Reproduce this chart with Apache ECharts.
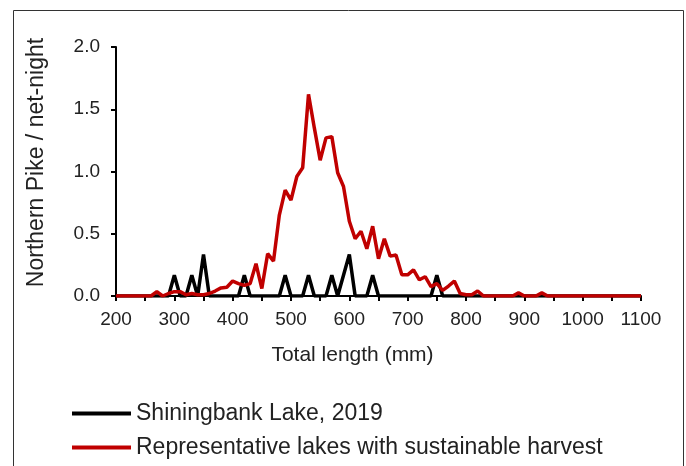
<!DOCTYPE html>
<html>
<head>
<meta charset="utf-8">
<script src="https://cdn.jsdelivr.net/npm/echarts@6/dist/echarts.min.js"></script>
<style>
html,body{margin:0;padding:0;background:#fff;}
#chart{width:686px;height:466px;}
</style>
</head>
<body>
<div id="chart"></div>
<script>
// Total length bins (mm)
var lengths = [200,210,220,230,240,250,260,270,280,290,
  300,310,320,330,340,350,360,370,380,390,
  400,410,420,430,440,450,460,470,480,490,
  500,510,520,530,540,550,560,570,580,590,
  600,610,620,630,640,650,660,670,680,690,
  700,710,720,730,740,750,760,770,780,790,
  800,810,820,830,840,850,860,870,880,890,
  900,910,920,930,940,950,960,970,980,990,
  1000,1010,1020,1030,1040,1050,1060,1070,1080,1090,1100];

// Shiningbank Lake, 2019 (fish / net-night)
var shiningbank = [0,0,0,0,0,0,0,0,0,0,
  0.167,0,0,0.167,0,0.333,0,0,0,0,
  0,0,0.167,0,0,0,0,0,0,0.167,
  0,0,0,0.167,0,0,0,0.167,0,0.167,
  0.333,0,0,0,0.167,0,0,0,0,0,
  0,0,0,0,0,0.167,0,0,0,0,
  0,0,0,0,0,0,0,0,0,0,
  0,0,0,0,0,0,0,0,0,0,
  0,0,0,0,0,0,0,0,0,0,0];

// Representative lakes with sustainable harvest
var representative = [0,0,0,0,0,0,0,0.035,0,0.02,
  0.035,0.035,0.01,0.02,0.01,0.01,0.02,0.04,0.065,0.07,
  0.12,0.1,0.085,0.1,0.26,0.06,0.34,0.28,0.65,0.85,
  0.77,0.96,1.03,1.62,1.35,1.09,1.27,1.28,0.99,0.88,
  0.6,0.46,0.52,0.38,0.56,0.30,0.46,0.32,0.33,0.17,
  0.17,0.21,0.13,0.155,0.075,0.10,0.045,0.08,0.12,0.02,
  0.01,0.01,0.04,0,0,0,0,0,0,0.025,
  0,0,0,0.025,0,0,0,0,0,0,
  0,0,0,0,0,0,0,0,0,0,0];

var seriesNames = ['Shiningbank Lake, 2019', 'Representative lakes with sustainable harvest'];
var xTitle = 'Total length (mm)';
var yTitle = 'Northern Pike / net-night';

function pairs(vals){ return lengths.map(function(x,i){ return [x, vals[i]]; }); }

var textColor = '#222';
var font = 'Arial, "Liberation Sans", sans-serif';

var chart = echarts.init(document.getElementById('chart'), null, {renderer:'canvas'});
chart.setOption({
  backgroundColor: '#fff',
  animation: false,
  grid: {left:116, right:45, top:47, bottom:170, containLabel:false},
  xAxis: {
    type:'value', min:200, max:1100, interval:100,
    axisLine:{show:true, onZero:false, lineStyle:{color:'#000', width:2}},
    axisTick:{show:true, length:5, lineStyle:{color:'#000', width:2}},
    minorTick:{show:true, splitNumber:2, length:5, lineStyle:{color:'#000', width:2}},
    splitLine:{show:false},
    axisLabel:{color:textColor, fontSize:19, fontFamily:font, margin:14,
      formatter:function(v){ return String(v); }}
  },
  yAxis: {
    type:'value', min:0, max:2, interval:0.5,
    axisLine:{show:true, lineStyle:{color:'#000', width:2}},
    axisTick:{show:true, length:5, lineStyle:{color:'#000', width:2}},
    splitLine:{show:false},
    axisLabel:{color:textColor, fontSize:19, fontFamily:font, margin:16,
      formatter:function(v){ return v.toFixed(1); }}
  },
  legend: {
    orient:'vertical', left:67, top:397, itemWidth:59, itemHeight:4, itemGap:11,
    icon:'rect',
    textStyle:{color:textColor, fontSize:23, fontFamily:font},
    data: seriesNames
  },
  series: [
    {name:seriesNames[0], type:'line', data:pairs(shiningbank), symbol:'none',
     lineStyle:{color:'#000', width:3.5}, itemStyle:{color:'#000'}, z:2},
    {name:seriesNames[1], type:'line', data:pairs(representative), symbol:'none',
     lineStyle:{color:'#c00000', width:3.5}, itemStyle:{color:'#c00000'}, z:3}
  ],
  graphic: [
    {type:'rect', shape:{x:13.5, y:10.5, width:670, height:470}, style:{fill:'none', stroke:'#333', lineWidth:1}, silent:true},
    {type:'text', x:36.5, y:162.5, rotation:Math.PI/2,
     style:{text:yTitle, fill:textColor, fontSize:23, fontFamily:font, align:'center', verticalAlign:'middle'}},
    {type:'text', x:352.5, y:355,
     style:{text:xTitle, fill:textColor, fontSize:21, fontFamily:font, align:'center', verticalAlign:'middle'}}
  ]
});
</script>
</body>
</html>
